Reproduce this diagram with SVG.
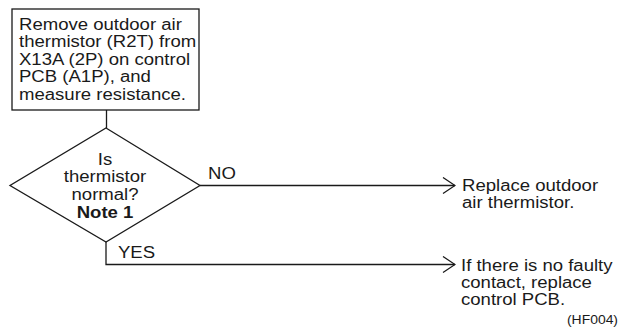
<svg xmlns="http://www.w3.org/2000/svg" width="624" height="331" viewBox="0 0 624 331">
<style>
.t{font-family:"Liberation Sans",Arial,Helvetica,sans-serif;font-size:16px;fill:#1a1a1a}
.b{font-weight:bold}
.m{text-anchor:middle}
.s{font-size:12px;text-anchor:end}
.shape{fill:#fff;stroke:#1a1a1a;stroke-width:1.3}
.conn{fill:none;stroke:#1a1a1a;stroke-width:1.3}
</style>
<defs>
<marker id="arr" viewBox="-14 -9 15 18" refX="0" refY="0" markerWidth="15" markerHeight="18" markerUnits="userSpaceOnUse" orient="auto">
<path d="M-12,-8 L0,0 L-12,8" fill="none" stroke="#1a1a1a" stroke-width="1.3"/>
</marker>
</defs>
<rect width="624" height="331" fill="#fff"/>
<g id="connectors">
<path class="conn" d="M106.5,110 V128"/>
<path class="conn" d="M200,185.5 H455" marker-end="url(#arr)"/>
<path class="conn" d="M106,242 V264.5 H455" marker-end="url(#arr)"/>
</g>
<g id="n_measure">
<rect class="shape" x="12" y="9" width="187" height="101"/>
<text class="t" transform="translate(19,30) scale(1.16,1)"><tspan x="0" y="0">Remove outdoor air</tspan><tspan x="0" y="17.5">thermistor (R2T) from</tspan><tspan x="0" y="35">X13A (2P) on control</tspan><tspan x="0" y="52.5">PCB (A1P), and</tspan><tspan x="0" y="70">measure resistance.</tspan></text>
</g>
<g id="n_decision">
<polygon class="shape" points="106,128 200,185.5 106,242 10,185.5"/>
<text class="t m" transform="translate(105,164.5) scale(1.16,1)"><tspan x="0" y="0">Is</tspan><tspan x="0" y="18">thermistor</tspan><tspan x="0" y="36">normal?</tspan><tspan x="0" y="54" class="b">Note 1</tspan></text>
</g>
<g id="l_no"><text class="t" transform="translate(208,179) scale(1.16,1)">NO</text></g>
<g id="l_yes"><text class="t" transform="translate(118,257.5) scale(1.16,1)">YES</text></g>
<g id="n_replace_thermistor">
<text class="t" transform="translate(462,191) scale(1.16,1)"><tspan x="0" y="0">Replace outdoor</tspan><tspan x="0" y="17.5">air thermistor.</tspan></text>
</g>
<g id="n_replace_pcb">
<text class="t" transform="translate(461,270.5) scale(1.16,1)"><tspan x="0" y="0">If there is no faulty</tspan><tspan x="0" y="17.5">contact, replace</tspan><tspan x="0" y="35">control PCB.</tspan></text>
</g>
<g id="ref_code"><text class="t s" transform="translate(618,324) scale(1.16,1)">(HF004)</text></g>
</svg>
